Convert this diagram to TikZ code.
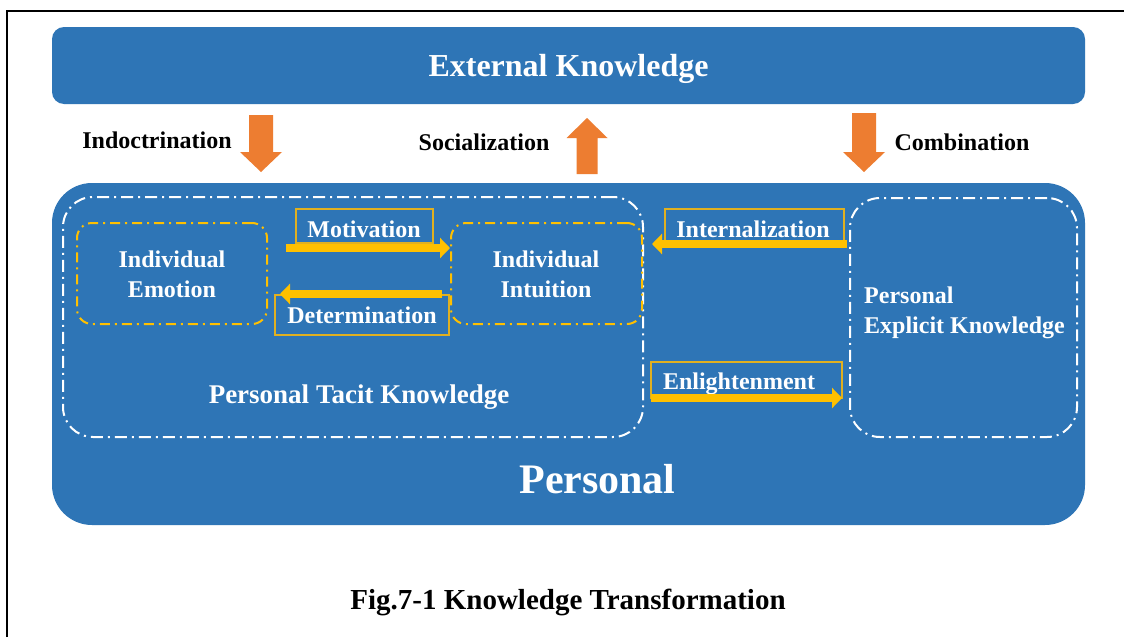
\documentclass[tikz,border=0pt]{standalone}
\usepackage{fontspec}
\setmainfont{Liberation Serif}
\usetikzlibrary{arrows.meta}
\definecolor{kblue}{HTML}{2E75B6}
\definecolor{korange}{HTML}{ED7D31}
\definecolor{kyellow}{HTML}{FFC000}
\definecolor{kgold}{HTML}{E0B020}
\begin{document}
\begin{tikzpicture}[x=1pt,y=-1pt,
  bluebox/.style={fill=kblue,draw=none,inner sep=0pt},
  whitedash/.style={draw=white,line width=2pt,dash pattern=on 12pt off 5pt on 2pt off 5pt,inner sep=0pt},
  yellowdash/.style={draw=kyellow,line width=2pt,dash pattern=on 10pt off 5pt on 2pt off 5pt,inner sep=0pt},
  lblbox/.style={draw=kgold,line width=1.2pt,inner sep=0pt},
  wtxt/.style={text=white,font=\fontsize{24}{30}\selectfont\bfseries,inner sep=0pt},
  btxt/.style={text=black,font=\fontsize{24}{30}\selectfont\bfseries,inner sep=0pt},
  yarrow/.style={draw=kyellow,line width=8pt,-{Triangle[length=10pt,width=20pt]}},
  oarrow/.style={fill=korange,draw=none}
]
\useasboundingbox (0,0) rectangle (1124,637);
\fill[white] (0,0) rectangle (1124,637);
% frame
\draw[black,line width=2pt] (7,637) -- (7,11) -- (1124,11);

% external knowledge
\node[bluebox,rounded corners=12pt,minimum width=1033pt,minimum height=77pt] (ext) at (568.5,65.5) {};
\node[wtxt,font=\fontsize{32}{36}\selectfont\bfseries,anchor=base] (extt) at (568.5,76) {External Knowledge};

% orange block arrows
\path[oarrow] (249,115) -- (273,115) -- (273,152) -- (282,152) -- (261,172) -- (240,152) -- (249,152) -- cycle;
\path[oarrow] (576.5,174) -- (597.5,174) -- (597.5,138) -- (607.5,138) -- (587,118) -- (566.5,138) -- (576.5,138) -- cycle;
\path[oarrow] (852,113) -- (876,113) -- (876,152) -- (885,152) -- (864,172) -- (843,152) -- (852,152) -- cycle;
\node[btxt,anchor=base] (indo) at (157,148) {Indoctrination};
\node[btxt,anchor=base] (soc) at (484,150) {Socialization};
\node[btxt,anchor=base] (comb) at (962,150) {Combination};

% personal box
\node[bluebox,rounded corners=40pt,minimum width=1033pt,minimum height=342pt] (pers) at (568.5,354) {};
\node[wtxt,font=\fontsize{42}{48}\selectfont\bfseries,anchor=base] (perst) at (597.5,493) {Personal};

% tacit and explicit
\node[whitedash,rounded corners=30pt,minimum width=580pt,minimum height=240pt] (tacit) at (353,317) {};
\node[wtxt,font=\fontsize{27}{32}\selectfont\bfseries,anchor=base] (tacitt) at (359,403) {Personal Tacit Knowledge};
\node[whitedash,rounded corners=30pt,minimum width=227pt,minimum height=239pt] (expl) at (963.5,317.5) {};
\node[wtxt,anchor=base west,align=left] (explt) at (864,333) {Personal\\Explicit Knowledge};

% emotion and intuition
\node[yellowdash,rounded corners=15pt,minimum width=190pt,minimum height=101pt] (emo) at (172,273.5) {};
\node[wtxt,anchor=base,align=center] (emot) at (172,297) {Individual\\Emotion};
\node[yellowdash,rounded corners=15pt,minimum width=191pt,minimum height=101pt] (intu) at (546.5,273.5) {};
\node[wtxt,anchor=base,align=center] (intut) at (546,297) {Individual\\Intuition};

% label boxes
\node[lblbox,minimum width=137pt,minimum height=34pt] (motb) at (364.5,226) {};
\node[wtxt,anchor=base] (mott) at (364,237) {Motivation};
\node[lblbox,minimum width=174pt,minimum height=40pt] (detb) at (362,315) {};
\node[wtxt,anchor=base] (dett) at (362,323) {Determination};
\node[lblbox,minimum width=179pt,minimum height=34pt] (intb) at (754.5,226) {};
\node[wtxt,anchor=base] (intt) at (753,237) {Internalization};
\node[lblbox,minimum width=191pt,minimum height=36pt] (enlb) at (746.5,380) {};
\node[wtxt,anchor=base] (enlt) at (739,389) {Enlightenment};

% yellow arrows
\coordinate (m1) at (286,248); \coordinate (m2) at (450,248);
\coordinate (d1) at (442,294); \coordinate (d2) at (280,294);
\coordinate (i1) at (847,244); \coordinate (i2) at (652,244);
\coordinate (e1) at (651,398); \coordinate (e2) at (842,398);
\draw[yarrow] (m1) -- (m2);
\draw[yarrow] (d1) -- (d2);
\draw[yarrow] (i1) -- (i2);
\draw[yarrow] (e1) -- (e2);

% caption
\node[btxt,font=\fontsize{29}{34}\selectfont\bfseries,anchor=base] (cap) at (568,609) {Fig.7-1 Knowledge Transformation};
\end{tikzpicture}
\end{document}
